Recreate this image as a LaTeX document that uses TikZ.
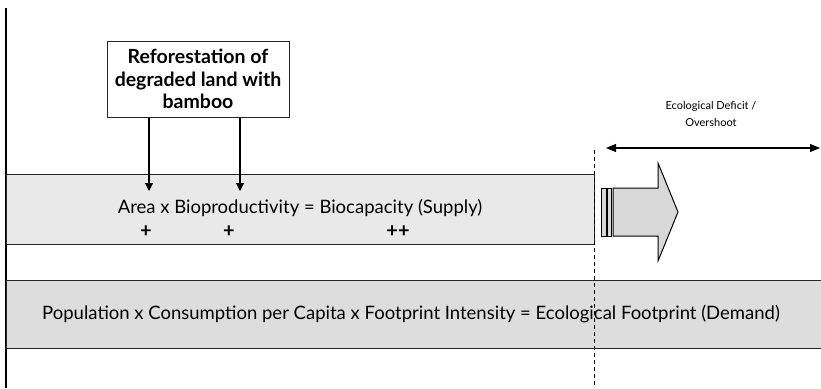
\documentclass[tikz,border=0pt]{standalone}
\usepackage{fontspec}
\setmainfont{Lato}
\usetikzlibrary{arrows.meta,positioning}

\newlength{\du}
\setlength{\du}{1pt}

\definecolor{supplyfill}{RGB}{233,233,233}
\definecolor{demandfill}{RGB}{221,221,221}
\definecolor{arrowfill}{RGB}{216,216,216}

\begin{document}
\begin{tikzpicture}[x=\du,y=-\du,
  bar/.style={draw=black!85, line width=1.1\du, anchor=north west, inner sep=0pt},
  plainlabel/.style={font=\fontsize{18.5}{21}\selectfont},
  pluslabel/.style={font=\bfseries\fontsize{20}{22}\selectfont},
  smalllabel/.style={font=\fontsize{11}{17}\selectfont, align=center},
  actionbox/.style={draw=black!85, line width=1\du, fill=white, align=center,
    minimum width=182\du, minimum height=76\du, inner sep=0\du,
    font=\bfseries\fontsize{19.5}{22.5}\selectfont},
  pointer/.style={line width=1.1\du, -{Triangle[length=8pt,width=8pt]}},
  span/.style={line width=1.1\du, {Triangle[length=10pt,width=8pt]}-{Triangle[length=10pt,width=8pt]}}]
\useasboundingbox (0,0) rectangle (821,388);

% axis on the left
\coordinate (axistop) at (6,8);
\coordinate (axisbottom) at (6,388);
\draw[line width=1.5\du] (axistop) -- (axisbottom);

% supply and demand bars
\node[bar, fill=supplyfill, minimum width=588\du, minimum height=70\du] (supply) at (6,174) {};
\node[bar, fill=demandfill, minimum width=830\du, minimum height=68\du] (demand) at (6,280) {};
\node[plainlabel] (supplytext) at (300,208) {Area x Bioproductivity = Biocapacity (Supply)};
\node[pluslabel] (plusarea) at (146,232) {+};
\node[pluslabel] (plusbio) at (229,232) {+};
\node[pluslabel] (pluscap) at (398,232) {++};
\node[plainlabel] (demandtext) at (411,314) {Population x Consumption per Capita x Footprint Intensity = Ecological Footprint (Demand)};

% the intervention box
\node[actionbox] (reforest) at (198,79) {Reforestation of\\degraded land with\\bamboo};
\coordinate (areatip) at (149,191);
\coordinate (biotip) at (240,191);
\draw[pointer] (reforest.south -| areatip) -- (areatip);
\draw[pointer] (reforest.south -| biotip) -- (biotip);

% overshoot marker
\coordinate (limittop) at (594,150);
\coordinate (limitbottom) at (594,388);
\draw[line width=1\du, dash pattern=on 4\du off 3\du] (limittop) -- (limitbottom);
\coordinate (deficitleft) at (606,148);
\coordinate (deficitright) at (820,148);
\draw[span] (deficitleft) -- (deficitright);
\node[smalllabel] (deficittext) at (711,114) {Ecological Deficit /\\Overshoot};

% striped block arrow
\draw[line width=1\du, fill=arrowfill] (601,188) rectangle (606,236);
\draw[line width=1\du, fill=arrowfill] (607,188) rectangle (611,236);
\draw[line width=1\du, fill=arrowfill]
  (613,188) -- (658,188) -- (658,163) -- (678,212) -- (658,261) -- (658,236) -- (613,236) -- cycle;
\end{tikzpicture}
\end{document}
